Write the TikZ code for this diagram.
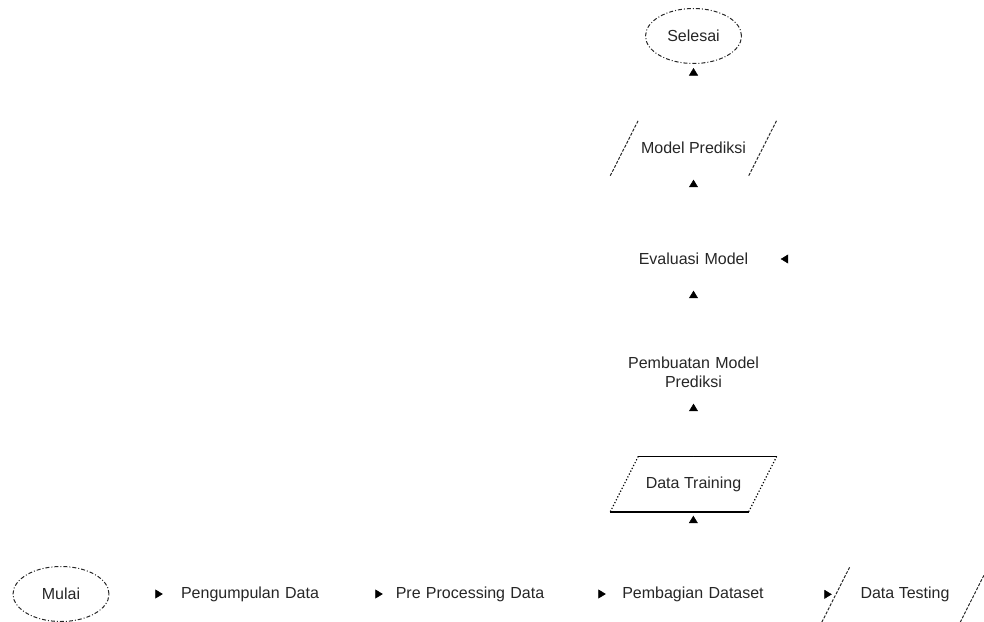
\documentclass[tikz,border=0pt]{standalone}
\usepackage{fontspec}
\setmainfont{Liberation Sans}
\usetikzlibrary{shapes.geometric, arrows.meta, positioning}

\begin{document}
\begin{tikzpicture}[
    x=1pt, y=-1pt,
    every node/.style={font=\fontsize{16}{19}\selectfont, text=black!85},
    terminal/.style={ellipse, minimum width=96pt, minimum height=55pt, draw=black!85, line width=1pt, dash pattern=on 4pt off 2pt on 1pt off 2pt},
    process/.style={rectangle, minimum width=166pt, minimum height=55pt, text width=160pt, inner sep=3pt, align=center},
    iobox/.style={rectangle, minimum width=138pt, minimum height=55pt, inner sep=0pt},
    slantside/.style={draw=black!85, line width=1pt, dash pattern=on 3pt off 1.5pt},
    dotside/.style={draw=black, line width=1.2pt, dotted},
    edgeline/.style={draw=black, line width=1.6pt},
    flow/.style={draw=white, line width=0.5pt, shorten >=4pt, -{Triangle[length=7.5pt, width=9pt, color=black]}}
]
\useasboundingbox (0,0) rectangle (984,621);

\node[terminal] (selesai) at (693.5,36) {Selesai};
\node[iobox] (prediksi) at (693.5,148) {Model Prediksi};
\node[process] (evaluasi) at (693.5,259) {Evaluasi Model};
\node[process] (pembuatan) at (693.5,372) {Pembuatan Model\\Prediksi};
\node[iobox] (training) at (693.5,484) {Data Training};

\node[terminal] (mulai) at (61,594) {Mulai};
\node[process] (pengumpulan) at (250,594) {Pengumpulan Data};
\node[process] (preprocessing) at (470,594) {Pre Processing Data};
\node[process] (pembagian) at (693,594) {Pembagian Dataset};
\node[iobox] (testing) at (905,594.5) {Data Testing};

\draw[slantside] ([xshift=-14pt]prediksi.south west) -- ([xshift=14pt]prediksi.north west);
\draw[slantside] ([xshift=-14pt]prediksi.south east) -- ([xshift=14pt]prediksi.north east);

\draw[edgeline] ([xshift=14pt]training.north west) -- ([xshift=14pt]training.north east);
\draw[edgeline] ([xshift=-14pt]training.south west) -- ([xshift=-14pt]training.south east);
\draw[dotside] ([xshift=-14pt]training.south west) -- ([xshift=14pt]training.north west);
\draw[dotside] ([xshift=-14pt]training.south east) -- ([xshift=14pt]training.north east);

\draw[slantside] ([xshift=-14pt]testing.south west) -- ([xshift=14pt]testing.north west);
\draw[slantside] ([xshift=-14pt]testing.south east) -- ([xshift=14pt]testing.north east);

\draw[flow] (mulai) -- (pengumpulan);
\draw[flow] (pengumpulan) -- (preprocessing);
\draw[flow] (preprocessing) -- (pembagian);
\draw[flow] (pembagian) -- (training);
\draw[flow] (pembagian) -- (testing);
\draw[flow] (training) -- (pembuatan);
\draw[flow] (pembuatan) -- (evaluasi);
\draw[flow] (evaluasi) -- (prediksi);
\draw[flow] (prediksi) -- (selesai);
\draw[flow] (testing) |- (evaluasi);

\end{tikzpicture}
\end{document}
